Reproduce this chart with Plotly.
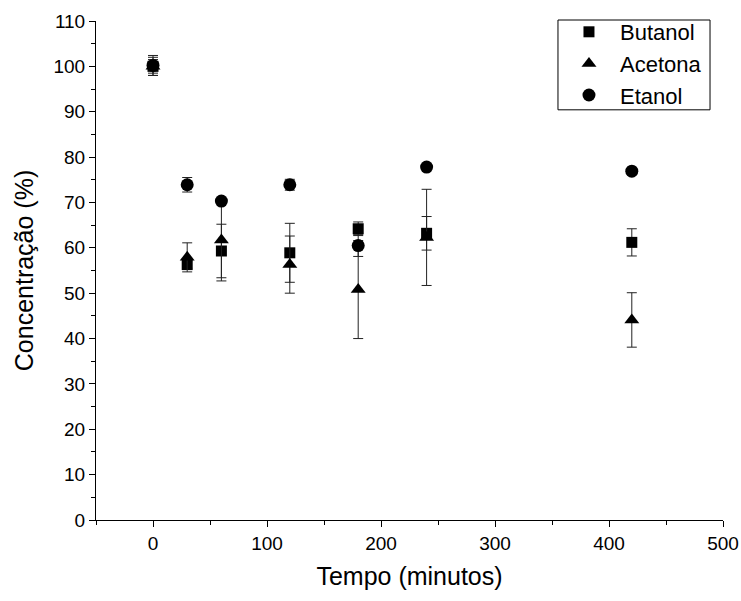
import plotly.graph_objects as go

tempo = [0, 30, 60, 120, 180, 240, 420]

butanol = [100.0, 56.3, 59.3, 58.9, 64.2, 63.2, 61.2]
butanol_err = [2.0, 0.8, 5.9, 6.5, 1.5, 3.7, 3.0]

acetona = [100.0, 57.9, 61.7, 56.3, 50.8, 62.3, 44.1]
acetona_err = [1.5, 3.2, 9.0, 6.3, 10.8, 10.6, 6.0]

etanol = [100.2, 73.9, 70.3, 73.9, 60.5, 77.8, 76.9]
etanol_err = [2.2, 1.6, 0.0, 1.2, 2.4, 0.0, 0.0]

x_ticks = [0, 100, 200, 300, 400, 500]
y_ticks = list(range(0, 111, 10))

FONT = "Liberation Sans, Arial, sans-serif"

fig = go.Figure()

def add(name, y, err, symbol, size):
    fig.add_trace(go.Scatter(
        x=tempo, y=y, name=name, mode="markers",
        marker=dict(symbol=symbol, size=size, color="black", line=dict(width=0)),
        error_y=dict(type="data", array=err, visible=True, color="#222222",
                     thickness=1, width=5),
    ))

add("Butanol", butanol, butanol_err, "square", 11)
add("Acetona", acetona, acetona_err, "triangle-up", 13)
add("Etanol", etanol, etanol_err, "circle", 13)

axis_common = dict(
    showline=True, linecolor="black", linewidth=1, mirror=False,
    ticks="outside", ticklen=6, tickwidth=1, tickcolor="black",
    showgrid=False, zeroline=False, automargin=False,
    tickfont=dict(family=FONT, size=19, color="black"),
)

fig.update_xaxes(
    range=[-50, 500], tickvals=x_ticks,
    title=dict(text="Tempo (minutos)", font=dict(family=FONT, size=25, color="black"), standoff=14),
    minor=dict(ticks="outside", ticklen=4, tickcolor="black", dtick=50, tick0=0),
    **axis_common,
)
fig.update_yaxes(
    range=[0, 110], tickvals=y_ticks,
    title=dict(text="Concentração (%)", font=dict(family=FONT, size=25, color="black"), standoff=12),
    minor=dict(ticks="outside", ticklen=4, tickcolor="black", dtick=5, tick0=0),
    **axis_common,
)

# legend frame
fig.add_shape(type="rect", xref="paper", yref="paper",
              x0=0.7368, x1=0.9793, y0=0.822, y1=1.002,
              line=dict(color="black", width=1), fillcolor="rgba(0,0,0,0)", layer="above")

fig.update_layout(
    width=741, height=601,
    margin=dict(l=96, r=18, t=20, b=81),
    paper_bgcolor="white", plot_bgcolor="white",
    font=dict(family=FONT, color="black"),
    legend=dict(
        x=0.7368, y=1.018, xanchor="left", yanchor="top",
        borderwidth=0, bgcolor="rgba(0,0,0,0)",
        font=dict(family=FONT, size=22, color="black"),
        itemwidth=52, tracegroupgap=0,
    ),
    showlegend=True,
)

fig.write_html("out.html")
